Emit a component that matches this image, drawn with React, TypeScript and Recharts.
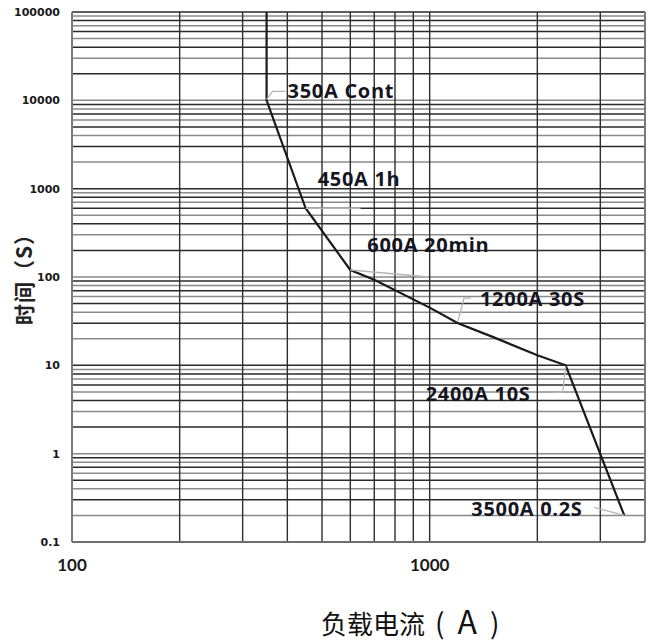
import {
  LineChart,
  Line,
  XAxis,
  YAxis,
  ReferenceLine,
  ReferenceDot,
} from "recharts";

// trip curve: load current (A) vs time (s)
const current = [350, 350, 450, 600, 700, 1000, 1200, 1500, 2000, 2400, 3500];
const time = [100000, 10000, 600, 120, 93, 45, 30, 21, 13, 10, 0.2];

const xTicks = [100, 1000];
const yTicks = [0.1, 1, 10, 100, 1000, 10000, 100000];

// grid lines of the log paper
const xGrid = [100, 200, 300, 400, 500, 600, 700, 800, 900, 1000, 2000, 3000, 4000];
const yDecades = [0.1, 1, 10, 100, 1000, 10000];
const yMultipliers = [1, 2, 3, 4, 5, 6, 7, 8, 9];

// annotations sit on curve points
const noteCurrent = [350, 450, 600, 1200, 2400, 3500];
const noteTime = [10000, 600, 120, 30, 10, 0.2];
const noteText = ["350A Cont", "450A 1h", "600A 20min", "1200A 30S", "2400A 10S", "3500A 0.2S"];

// pixel offsets of text + leader line relative to the point
const noteLayout = [
  { dx: 21, dy: -2, leader: "M0,-1 L6,-9 L19,-9" },
  { dx: 12, dy: -22, leader: "M0,0 L55,0" },
  { dx: 17, dy: -18, leader: "M0,0 L78,7" },
  { dx: 22, dy: -17, leader: "M0,-2 L6,-25 L13,-25" },
  { dx: -140, dy: 36, leader: "M0,1 L-3,27 L-12,27" },
  { dx: -153, dy: 1, leader: "M-30,-8 L0,0" },
];

const data = current.map((c, i) => ({ current: c, time: time[i] }));

const yGrid: number[] = [];
yDecades.forEach((d) => yMultipliers.forEach((m) => yGrid.push(+(d * m).toPrecision(3))));
yGrid.push(100000);

const fmtY = (v: number) => (v < 1 ? String(v) : String(Math.round(v)));

function Note({ cx, cy, i }: { cx?: number; cy?: number; i: number }) {
  if (cx == null || cy == null) return null;
  const l = noteLayout[i];
  return (
    <g transform={`translate(${cx},${cy})`}>
      <path d={l.leader} fill="none" stroke="#b5b5b5" strokeWidth={1.3} />
      <text
        x={l.dx}
        y={l.dy}
        fill="#15151f"
        fontFamily="Open Sans"
        fontWeight={700}
        fontSize={20}
        letterSpacing={0.7}
      >
        {noteText[i]}
      </text>
    </g>
  );
}

export default function App() {
  return (
    <div style={{ position: "absolute", left: 0, top: 0, width: 651, height: 643, background: "#fff" }}>
      <LineChart width={651} height={643} data={data} margin={{ top: 12, right: 6, bottom: 61, left: 0 }}>
        {yGrid.map((v, i) => (
          <ReferenceLine
            key={"y" + v}
            y={v}
            stroke={i % 2 === 0 ? "#2a2a2a" : "#8a8a8a"}
            strokeWidth={1.5}
            ifOverflow="visible"
          />
        ))}
        {xGrid.map((v) => (
          <ReferenceLine
            key={"x" + v}
            x={v}
            stroke={v === 4000 || v === 100 ? "#7a7a7a" : "#2e2e2e"}
            strokeWidth={v === 4000 || v === 100 ? 2 : 1.4}
            ifOverflow="visible"
          />
        ))}
        <XAxis
          dataKey="current"
          type="number"
          scale="log"
          domain={[100, 4000]}
          ticks={xTicks}
          allowDataOverflow
          height={40}
          tickLine={false}
          tickSize={0}
          tickMargin={17}
          axisLine={{ stroke: "#6e6e6e", strokeWidth: 2 }}
          tick={{ fontSize: 17, fontFamily: "Lato", fontWeight: 700, fill: "#1a1a1a" }}
        />
        <YAxis
          dataKey="time"
          type="number"
          scale="log"
          domain={[0.1, 100000]}
          ticks={yTicks}
          allowDataOverflow
          width={72}
          tickLine={false}
          tickSize={0}
          tickMargin={12}
          tickFormatter={fmtY}
          axisLine={{ stroke: "#7a7a7a", strokeWidth: 2 }}
          tick={{ fontSize: 11, fontFamily: "DejaVu Sans", fontWeight: 700, fill: "#1a1a1a" }}
        />
        <Line
          type="linear"
          dataKey="time"
          stroke="#1a1a1a"
          strokeWidth={2.2}
          dot={false}
          isAnimationActive={false}
        />
        {noteCurrent.map((c, i) => (
          <ReferenceDot
            key={"n" + i}
            x={c}
            y={noteTime[i]}
            r={0}
            ifOverflow="visible"
            shape={(p: any) => <Note cx={p.cx} cy={p.cy} i={i} />}
          />
        ))}
      </LineChart>
      <div
        style={{
          position: "absolute",
          left: 23,
          top: 274,
          transform: "translate(-50%, -50%) rotate(-90deg)",
          whiteSpace: "nowrap",
          fontFamily: "Noto Sans CJK SC",
          fontWeight: 700,
          fontSize: 21,
          letterSpacing: 1,
          color: "#222",
        }}
      >
        时间（S）
      </div>
      <div
        style={{
          position: "absolute",
          left: 321,
          top: 600,
          whiteSpace: "nowrap",
          fontFamily: "Noto Sans CJK SC",
          lineHeight: "40px",
          color: "#111",
        }}
      >
        <span style={{ fontSize: 26 }}>负载电流</span>
        <span style={{ fontSize: 28, marginLeft: 10 }}>(</span>
        <span style={{ fontSize: 32, marginLeft: 13 }}>A</span>
        <span style={{ fontSize: 28, marginLeft: 13 }}>)</span>
      </div>
    </div>
  );
}
